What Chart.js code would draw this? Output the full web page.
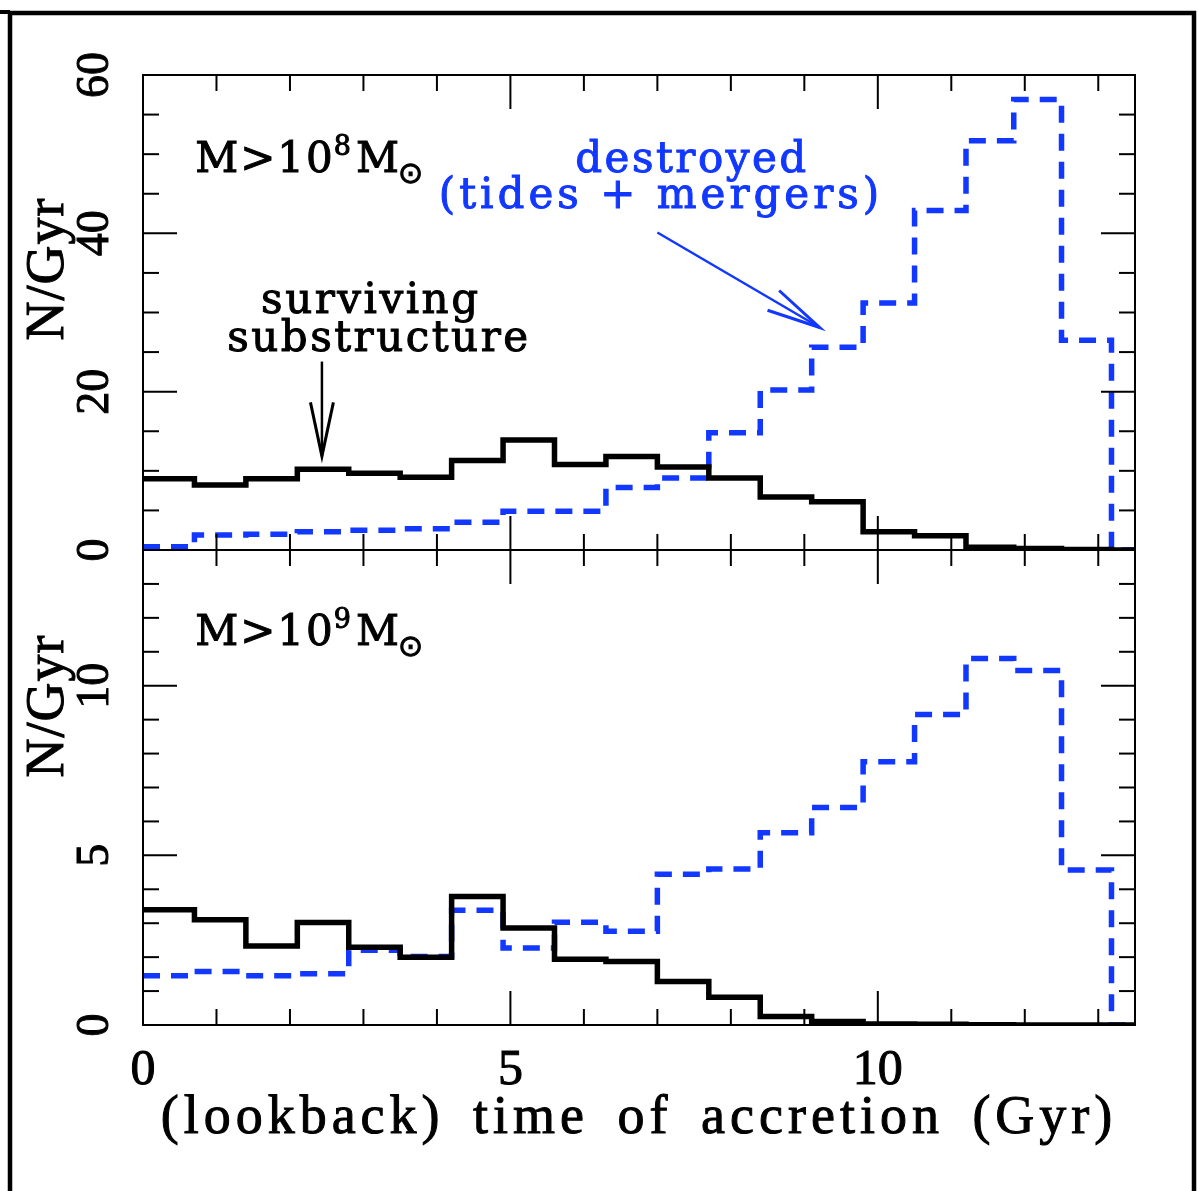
<!DOCTYPE html>
<html>
<head>
<meta charset="utf-8">
<title>time of accretion</title>
<script src="https://cdn.jsdelivr.net/npm/chart.js@4.4.0/dist/chart.umd.min.js"></script>
<style>
  html, body { margin: 0; padding: 0; background: #fff; }
  #wrap { width: 1198px; height: 1191px; }
</style>
</head>
<body>
<div id="wrap"><canvas id="accretion" width="1198" height="1191"></canvas></div>
<script>
// bin edges, lookback time in Gyr
const binEdges = [0, 0.7, 1.4, 2.1, 2.8, 3.5, 4.2, 4.9, 5.6, 6.3, 7.0, 7.7, 8.4, 9.1, 9.8, 10.5, 11.2, 11.85, 12.5, 13.18, 13.5];

// M > 10^8 Msun, N/Gyr
const survivingHi = [9.0, 8.2, 9.0, 10.2, 9.7, 9.2, 11.3, 13.9, 10.8, 11.8, 10.5, 9.1, 6.7, 6.1, 2.3, 1.8, 0.35, 0.2, 0.05, 0];
const destroyedHi = [0.4, 1.9, 2.0, 2.3, 2.5, 2.7, 3.5, 4.9, 4.9, 7.9, 9.1, 14.8, 20.2, 25.6, 31.2, 42.9, 51.7, 56.9, 26.5, 0];

// M > 10^9 Msun, N/Gyr
const survivingLo = [3.4, 3.1, 2.33, 3.02, 2.29, 2.0, 3.79, 2.86, 1.94, 1.87, 1.28, 0.82, 0.25, 0.1, 0.03, 0.02, 0.01, 0, 0, 0];
const destroyedLo = [1.45, 1.58, 1.45, 1.51, 2.2, 2.02, 3.38, 2.27, 3.03, 2.76, 4.44, 4.6, 5.67, 6.41, 7.76, 9.15, 10.8, 10.45, 4.57, 0];

// tick labels
const xTickLabels = [0, 5, 10];
const yTopTickLabels = [0, 20, 40, 60];
const yBotTickLabels = [0, 5, 10];

const blue = '#1238ff';
const serif = '"Liberation Serif", "Times New Roman", serif';
const slab = '"DejaVu Serif", serif';

// step outline: every bin gives a flat top from its left edge to its right edge
function histPoints(edges, values) {
  const pts = [];
  for (let i = 0; i < values.length; i++) {
    pts.push({ x: edges[i], y: values[i] });
    pts.push({ x: edges[i + 1], y: values[i] });
  }
  return pts;
}

function seg(ctx, x1, y1, x2, y2) {
  ctx.beginPath();
  ctx.moveTo(x1, y1);
  ctx.lineTo(x2, y2);
  ctx.stroke();
}

// text with a thin outline so it gets the heavy look of the original
function label(ctx, str, px, py, font, color, align, spacing, rotate, wordSpacing) {
  ctx.save();
  ctx.font = font;
  ctx.fillStyle = color;
  ctx.strokeStyle = color;
  ctx.lineWidth = 1;
  ctx.textAlign = align;
  ctx.textBaseline = 'alphabetic';
  ctx.letterSpacing = spacing + 'px';
  if (wordSpacing) ctx.wordSpacing = wordSpacing + 'px';
  ctx.translate(px, py);
  if (rotate) ctx.rotate(rotate);
  ctx.fillText(str, 0, 0);
  ctx.strokeText(str, 0, 0);
  ctx.restore();
}

function arrow(ctx, x1, y1, x2, y2, color) {
  const ang = Math.atan2(y2 - y1, x2 - x1);
  const len = 55, spread = 0.21;
  ctx.save();
  ctx.strokeStyle = color;
  ctx.lineWidth = 2.5;
  seg(ctx, x1, y1, x2, y2);
  ctx.lineWidth = 3;
  ctx.beginPath();
  ctx.moveTo(x2 - len * Math.cos(ang - spread), y2 - len * Math.sin(ang - spread));
  ctx.lineTo(x2, y2);
  ctx.lineTo(x2 - len * Math.cos(ang + spread), y2 - len * Math.sin(ang + spread));
  ctx.stroke();
  ctx.restore();
}

function massLabel(ctx, left, base, exp) {
  ctx.save();
  ctx.fillStyle = '#000';
  ctx.strokeStyle = '#000';
  ctx.lineWidth = 1;
  ctx.textAlign = 'left';
  ctx.textBaseline = 'alphabetic';
  let cx = left;
  ctx.font = '42px ' + slab;
  ctx.letterSpacing = '2px';
  ctx.fillText('M>10', cx, base);
  ctx.strokeText('M>10', cx, base);
  cx += ctx.measureText('M>10').width;
  ctx.font = '27px ' + slab;
  ctx.letterSpacing = '0px';
  ctx.fillText(exp, cx - 1, base - 17);
  ctx.strokeText(exp, cx - 1, base - 17);
  cx += ctx.measureText(exp).width + 4;
  ctx.font = '42px ' + slab;
  ctx.fillText('M', cx, base);
  ctx.strokeText('M', cx, base);
  cx += ctx.measureText('M').width - 1;
  ctx.font = '30px "DejaVu Sans", sans-serif';
  ctx.fillText('\u2299', cx, base + 11);
  ctx.strokeText('\u2299', cx, base + 11);
  ctx.restore();
}

// frame, inward ticks and all the annotations
const decorations = {
  id: 'decorations',
  afterDraw(chart) {
    const { ctx, chartArea: a } = chart;
    const x = chart.scales.x, yTop = chart.scales.yTop, yBot = chart.scales.yBot;
    ctx.save();
    ctx.strokeStyle = '#000';
    ctx.lineCap = 'butt';

    // outer figure border (cut at the bottom)
    ctx.lineWidth = 4.5;
    ctx.beginPath();
    ctx.moveTo(10, 1191);
    ctx.lineTo(10, 13);
    ctx.lineTo(1194, 13);
    ctx.lineTo(1194, 1191);
    ctx.stroke();
    ctx.fillRect(0, 10, 10, 4);

    // panel boxes
    ctx.lineWidth = 2;
    ctx.strokeRect(a.left, a.top, a.right - a.left, a.bottom - a.top);
    seg(ctx, a.left, yTop.bottom, a.right, yTop.bottom);

    // x ticks on every panel edge
    for (let t = 1; t <= 13; t++) {
      const px = x.getPixelForValue(t);
      const len = t % 5 === 0 ? 34 : 16;
      [yTop, yBot].forEach(p => {
        seg(ctx, px, p.top, px, p.top + len);
        seg(ctx, px, p.bottom, px, p.bottom - len);
      });
    }
    // y ticks, left and right
    for (let v = 5; v < 60; v += 5) {
      const py = yTop.getPixelForValue(v);
      const len = v % 20 === 0 ? 34 : 16;
      seg(ctx, a.left, py, a.left + len, py);
      seg(ctx, a.right, py, a.right - len, py);
    }
    for (let v = 1; v < 14; v++) {
      const py = yBot.getPixelForValue(v);
      const len = v % 5 === 0 ? 34 : 16;
      seg(ctx, a.left, py, a.left + len, py);
      seg(ctx, a.right, py, a.right - len, py);
    }

    // axis titles
    label(ctx, 'N/Gyr', 63, yTop.getPixelForValue(35.5), '54px ' + serif, '#000', 'center', 1, -Math.PI / 2);
    label(ctx, 'N/Gyr', 63, yBot.getPixelForValue(9.4), '54px ' + serif, '#000', 'center', 1, -Math.PI / 2);
    label(ctx, '(lookback) time of accretion (Gyr)', (a.left + a.right) / 2, 1133, '54px ' + serif, '#000', 'center', 5, 0, 10);

    // panel labels
    massLabel(ctx, x.getPixelForValue(0.71), yTop.getPixelForValue(47.8), '8');
    massLabel(ctx, x.getPixelForValue(0.71), yBot.getPixelForValue(11.2), '9');

    // annotations
    label(ctx, 'destroyed', x.getPixelForValue(7.47), yTop.getPixelForValue(47.8), '42px ' + slab, blue, 'center', 2.5);
    label(ctx, '(tides + mergers)', x.getPixelForValue(7.05), yTop.getPixelForValue(43.25), '42px ' + slab, blue, 'center', 4);
    arrow(ctx, x.getPixelForValue(7.0), yTop.getPixelForValue(40.1), x.getPixelForValue(9.21), yTop.getPixelForValue(28.1), blue);

    label(ctx, 'surviving', x.getPixelForValue(3.1), yTop.getPixelForValue(30.0), '42px ' + slab, '#000', 'center', 2.5);
    label(ctx, 'substructure', x.getPixelForValue(3.21), yTop.getPixelForValue(25.1), '42px ' + slab, '#000', 'center', 2.5);
    arrow(ctx, x.getPixelForValue(2.435), yTop.getPixelForValue(23.8), x.getPixelForValue(2.435), yTop.getPixelForValue(11.85), '#000');

    ctx.restore();
  }
};

function yAxis(min, max, ticks) {
  return {
    type: 'linear',
    position: 'left',
    stack: 'panels',
    stackWeight: 1,
    min: min,
    max: max,
    afterBuildTicks: s => { s.ticks = ticks.map(v => ({ value: v })); },
    afterFit: s => { s.width = 143; },
    grid: { display: false, drawTicks: false },
    border: { display: false },
    ticks: {
      color: '#000',
      textStrokeColor: '#000',
      textStrokeWidth: 1,
      font: { family: 'Liberation Serif', size: 46 },
      minRotation: 90,
      maxRotation: 90,
      crossAlign: 'center',
      padding: 24
    }
  };
}

new Chart(document.getElementById('accretion'), {
  type: 'line',
  data: {
    datasets: [
      {
        label: 'surviving substructure, M>10^8',
        data: histPoints(binEdges, survivingHi),
        yAxisID: 'yTop',
        borderColor: '#000',
        borderWidth: 5.5
      },
      {
        label: 'surviving substructure, M>10^9',
        data: histPoints(binEdges, survivingLo),
        yAxisID: 'yBot',
        borderColor: '#000',
        borderWidth: 5.5
      },
      {
        label: 'destroyed, M>10^8',
        data: histPoints(binEdges, destroyedHi),
        yAxisID: 'yTop',
        borderColor: blue,
        borderWidth: 5.5,
        borderDash: [17, 11]
      },
      {
        label: 'destroyed, M>10^9',
        data: histPoints(binEdges, destroyedLo),
        yAxisID: 'yBot',
        borderColor: blue,
        borderWidth: 5.5,
        borderDash: [17, 11]
      }
    ]
  },
  options: {
    responsive: false,
    animation: false,
    devicePixelRatio: 1,
    layout: { padding: { top: 75, right: 63, left: 0, bottom: 0 } },
    elements: {
      point: { radius: 0, hoverRadius: 0 },
      line: { tension: 0, fill: false, borderJoinStyle: 'miter', borderCapStyle: 'butt' }
    },
    scales: {
      x: {
        type: 'linear',
        position: 'bottom',
        min: 0,
        max: 13.5,
        afterBuildTicks: s => { s.ticks = xTickLabels.map(v => ({ value: v })); },
        afterFit: s => { s.height = 166; },
        grid: { display: false, drawTicks: false },
        border: { display: false },
        ticks: {
          color: '#000',
          textStrokeColor: '#000',
          textStrokeWidth: 1,
          font: { family: 'Liberation Serif', size: 50 },
          maxRotation: 0,
          autoSkip: false,
          padding: 16
        }
      },
      yBot: yAxis(0, 14, yBotTickLabels),
      yTop: yAxis(0, 60, yTopTickLabels)
    },
    plugins: {
      legend: { display: false },
      tooltip: { enabled: false }
    }
  },
  plugins: [decorations]
});
</script>
</body>
</html>
